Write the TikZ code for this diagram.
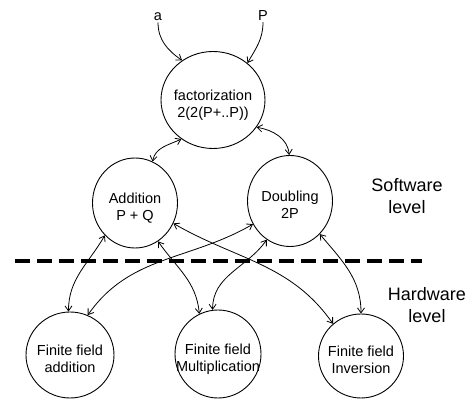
\documentclass[tikz,border=0pt]{standalone}
\usepackage{fontspec}
\setmainfont{Liberation Sans}
\usetikzlibrary{shapes.geometric,arrows.meta}
\newcommand{\ctext}[1]{\smash{\makebox[0pt]{\raisebox{-9pt}{\begin{tabular}{@{}c@{}}#1\end{tabular}}}}}
\tikzset{
  circ/.style={draw, ellipse, line width=0.9pt, inner sep=0pt,
    font=\fontsize{14.5}{17.5}\selectfont},
  lvl/.style={align=center, font=\fontsize{18}{22}\selectfont},
  inp/.style={anchor=base, inner sep=1pt, font=\fontsize{14.5}{17.5}\selectfont},
  conn/.style={line width=0.8pt, {Straight Barb[length=5pt,width=7pt]}-{Straight Barb[length=5pt,width=7pt]}},
  feed/.style={line width=0.8pt, -{Straight Barb[length=5pt,width=7pt]}},
  sep/.style={line width=3.3pt, dash pattern=on 15pt off 7pt}
}
\begin{document}
\begin{tikzpicture}[x=1pt,y=1pt]
\useasboundingbox (0,0) rectangle (469,399);
% nodes
\node[circ, minimum width=104pt, minimum height=97pt] (fac) at (213,299) {\ctext{factorization\\2(2(P+..P))}};
\node[circ, minimum width=85pt, minimum height=90pt] (add) at (135,196) {\ctext{Addition\\P + Q}};
\node[circ, minimum width=85pt, minimum height=91pt] (dbl) at (290,198) {\ctext{Doubling\\2P}};
\node[circ, minimum width=88pt, minimum height=86pt] (ffa) at (70,44) {\ctext{Finite field\\addition}};
\node[circ, minimum width=86pt, minimum height=88pt] (ffm) at (218,45) {\ctext{Finite field\\Multiplication}};
\node[circ, minimum width=85pt, minimum height=84pt] (ffi) at (361,43) {\ctext{Finite field\\Inversion}};
\node[inp] (a) at (158,378) {a};
\node[inp] (p) at (263,378) {P};
\node[lvl] (sw) at (407,203) {Software\\level};
\node[lvl] (hw) at (427,94) {Hardware\\level};
% separator
\coordinate (sepL) at (15,138);
\coordinate (sepR) at (422,138);
\draw[sep] (sepL) -- (sepR);
% inputs
\draw[feed] (a.south) to[out=-90, in=145] (fac.128);
\draw[feed] (p.south) to[out=-90, in=60] (fac.47);
% software level
\draw[conn] (fac.231) to[out=205, in=80] (add.67);
\draw[conn] (fac.-32) to[out=-10, in=95] (dbl.91);
% to hardware level
\draw[conn] (add.227) to[out=240, in=90] (ffa.92);
\draw[conn] (add.-59) to[out=-55, in=95] (ffm.115);
\draw[conn] (add.-28) to[out=-30, in=125] (ffi.131);
\draw[conn] (dbl.212) to[out=210, in=55] (ffa.66);
\draw[conn] (dbl.239) to[out=235, in=90] (ffm.97);
\draw[conn] (dbl.-48) to[out=-50, in=90] (ffi.90);
\end{tikzpicture}
\end{document}
